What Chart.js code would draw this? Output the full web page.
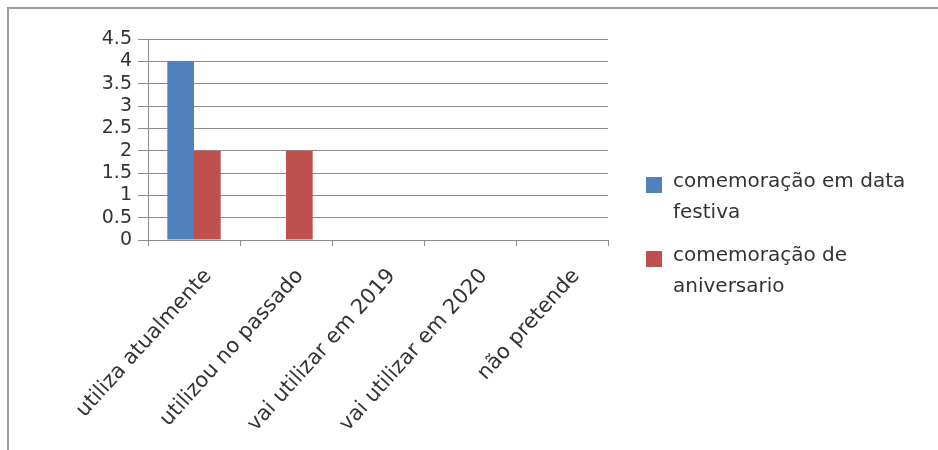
<!DOCTYPE html>
<html>
<head>
<meta charset="utf-8">
<script src="https://cdn.jsdelivr.net/npm/chart.js@4/dist/chart.umd.min.js"></script>
<style>
  html, body { margin: 0; padding: 0; background: #ffffff; }
  #wrap { position: relative; width: 938px; height: 450px; }
</style>
</head>
<body>
<div id="wrap"><canvas id="chart" width="938" height="450"></canvas></div>
<script>
// Categories and series
const categories = ['utiliza atualmente', 'utilizou no passado', 'vai utilizar em 2019', 'vai utilizar em 2020', 'não pretende'];
const festivaValues = [4, 0, 0, 0, 0];
const aniversarioValues = [2, 2, 0, 0, 0];
const seriesNames = ['comemoração em data festiva', 'comemoração de aniversario'];
const yTicks = [0, 0.5, 1, 1.5, 2, 2.5, 3, 3.5, 4, 4.5];

const BLUE = '#4F81BD';
const RED = '#C0504D';
const GRID = '#8c8c8c';

// Outer frame of the chart object (top and left edges)
const framePlugin = {
  id: 'frame',
  beforeDraw(chart) {
    const ctx = chart.ctx;
    ctx.save();
    ctx.fillStyle = '#ffffff';
    ctx.fillRect(0, 0, chart.width, chart.height);
    ctx.strokeStyle = '#9c9c9c';
    ctx.lineWidth = 2;
    ctx.beginPath();
    ctx.moveTo(8, chart.height);
    ctx.lineTo(8, 8);
    ctx.lineTo(chart.width, 8);
    ctx.stroke();
    ctx.restore();
  }
};

// Legend on the right with wrapped labels
const sideLegend = {
  id: 'sideLegend',
  afterDraw(chart) {
    const ctx = chart.ctx;
    const area = chart.chartArea;
    const x0 = area.right + 38;
    const textX = x0 + 27;
    const maxW = 258;
    const lineH = 31;
    let y = 182;
    ctx.save();
    ctx.font = '20px "DejaVu Sans"';
    ctx.textBaseline = 'middle';
    ctx.textAlign = 'left';
    chart.data.datasets.forEach((ds) => {
      const words = ds.label.split(' ');
      const lines = [];
      let cur = '';
      words.forEach((w) => {
        const t = cur ? cur + ' ' + w : w;
        if (ctx.measureText(t).width > maxW && cur) { lines.push(cur); cur = w; }
        else cur = t;
      });
      if (cur) lines.push(cur);
      ctx.fillStyle = ds.backgroundColor;
      ctx.fillRect(x0, y - 5, 16, 16);
      ctx.fillStyle = '#333333';
      lines.forEach((ln, i) => ctx.fillText(ln, textX, y + i * lineH));
      y += lines.length * lineH + 12;
    });
    ctx.restore();
  }
};

new Chart(document.getElementById('chart'), {
  type: 'bar',
  data: {
    labels: categories,
    datasets: [
      { label: seriesNames[0], data: festivaValues, backgroundColor: BLUE },
      { label: seriesNames[1], data: aniversarioValues, backgroundColor: RED }
    ]
  },
  options: {
    responsive: false,
    animation: false,
    devicePixelRatio: 1,
    layout: { padding: { left: 0, right: 330, top: 39, bottom: 0 } },
    datasets: { bar: { categoryPercentage: 0.58, barPercentage: 1.0 } },
    plugins: {
      legend: { display: false },
      tooltip: { enabled: false }
    },
    scales: {
      x: {
        grid: { offset: true, drawOnChartArea: false, drawTicks: true, tickLength: 6, color: GRID },
        border: { color: GRID, width: 1 },
        ticks: {
          maxRotation: 48, minRotation: 48, autoSkip: false,
          labelOffset: 14, padding: 18,
          color: '#333333',
          font: { family: 'DejaVu Sans', size: 21 }
        },
        afterFit(scale) { scale.height = 210; }
      },
      y: {
        min: 0, max: 4.5,
        afterBuildTicks(scale) { scale.ticks = yTicks.map(v => ({ value: v })); },
        grid: { color: GRID, tickLength: 10, drawTicks: true },
        border: { color: GRID, width: 1 },
        ticks: {
          autoSkip: false,
          padding: 6,
          color: '#333333',
          font: { family: 'DejaVu Sans', size: 19 },
          callback: (v) => String(v)
        },
        afterFit(scale) { scale.width = 148; }
      }
    }
  },
  plugins: [framePlugin, sideLegend]
});
</script>
</body>
</html>
